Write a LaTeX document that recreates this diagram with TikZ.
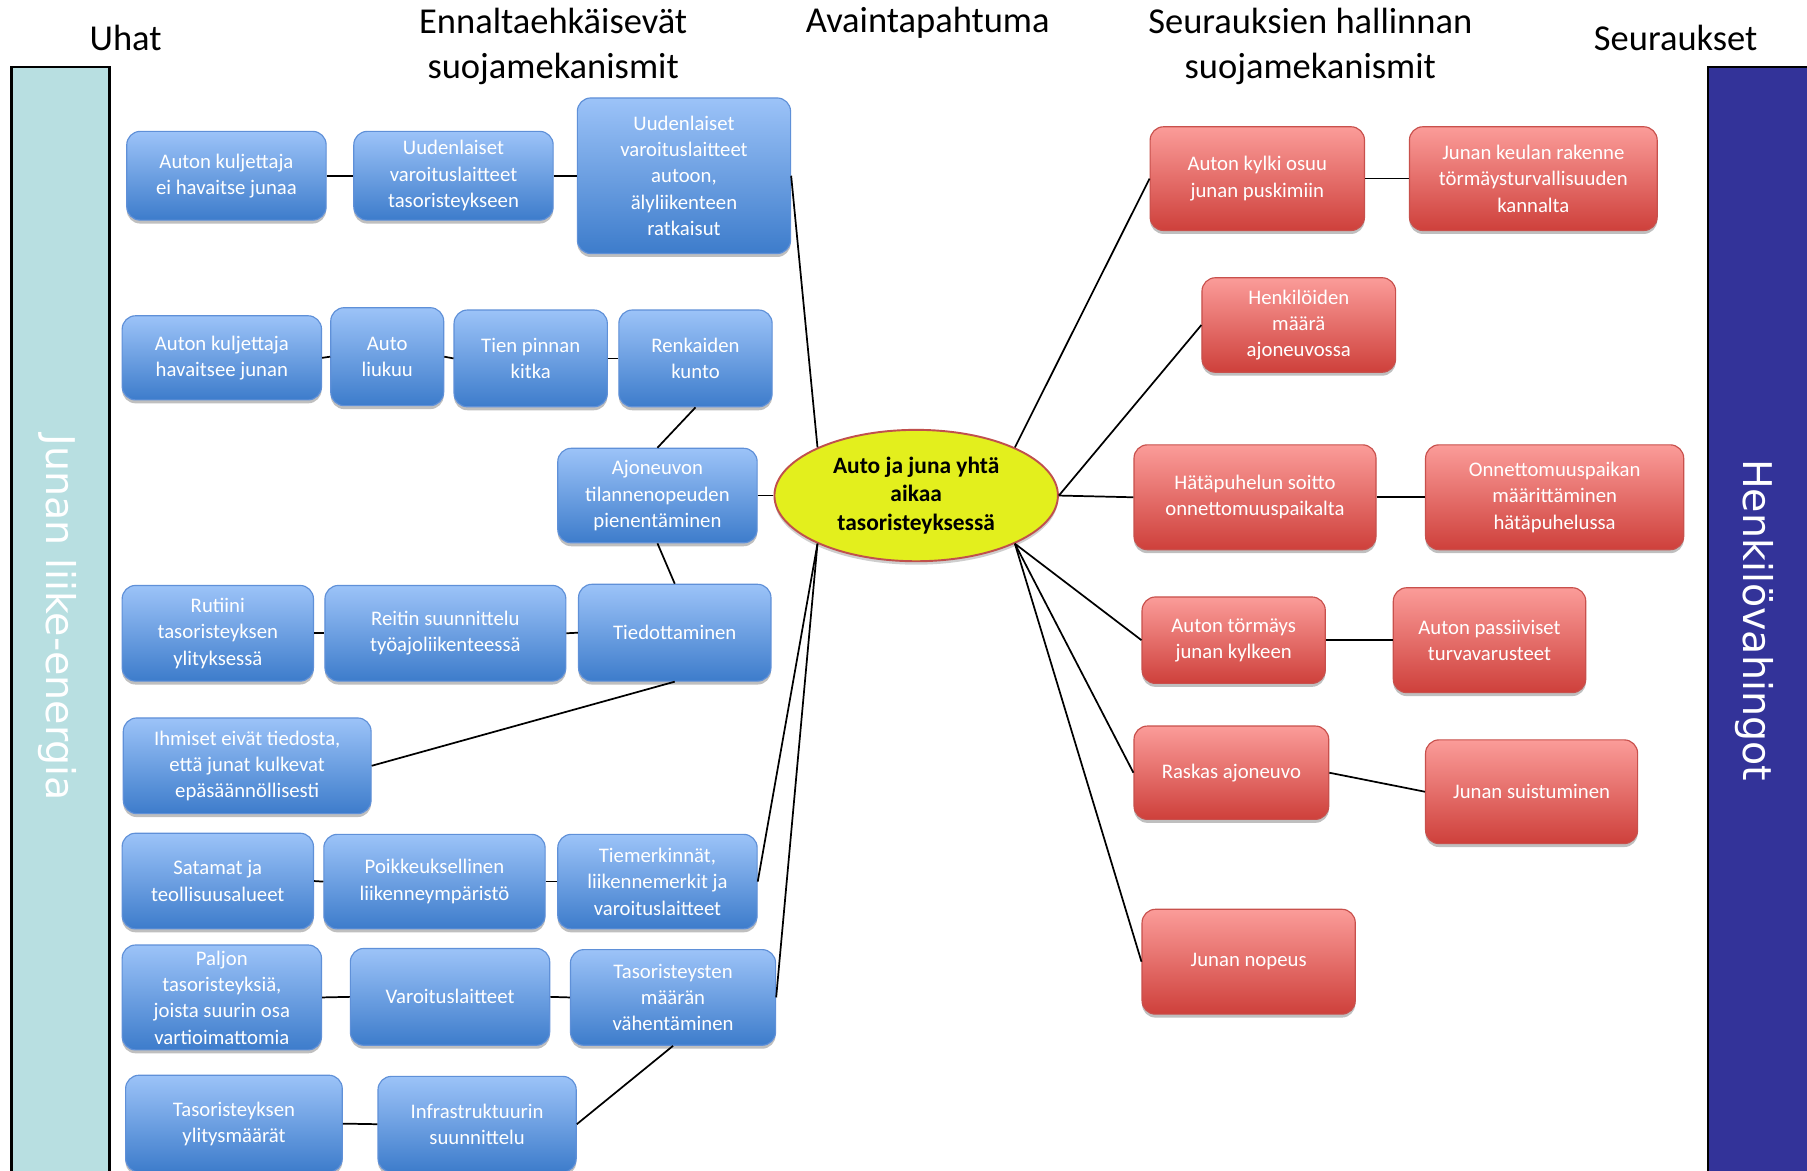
\documentclass[tikz,border=0pt]{standalone}
\usepackage{fontspec}
\setmainfont{Carlito}
\newfontfamily\dvs{DejaVu Sans}
\usetikzlibrary{shapes.geometric,shadows}
\definecolor{btop}{HTML}{9CC3F8}
\definecolor{bbot}{HTML}{3D7CCB}
\definecolor{bedge}{HTML}{5F90D8}
\definecolor{rtop}{HTML}{FB9C99}
\definecolor{rbot}{HTML}{CE403B}
\definecolor{redge}{HTML}{C8504C}
\definecolor{evfill}{HTML}{E3EF1D}
\definecolor{evedge}{HTML}{C0504D}
\definecolor{lbar}{HTML}{B8DFE1}
\definecolor{rbar}{HTML}{333399}
\tikzset{
  basebox/.style={rounded corners=7pt, align=center, text=white, inner sep=1pt,
    font=\fontsize{10.8}{13.7}\selectfont,
    drop shadow={shadow xshift=0pt, shadow yshift=-1.8pt, opacity=0.45, fill=black!55}},
  bluebox/.style={basebox, top color=btop, bottom color=bbot, draw=bedge, line width=0.6pt},
  redbox/.style={basebox, top color=rtop, bottom color=rbot, draw=redge, line width=0.6pt},
  header/.style={align=center, font=\fontsize{19}{23.4}\selectfont, inner sep=0pt},
  link/.style={draw=black, line width=0.9pt},
  sidebar/.style={draw=black, line width=1.2pt},
  sidetext/.style={rotate=-90, font=\dvs\fontsize{20.6}{24}\selectfont, inner sep=0pt}
}
\newcommand\mkbox[7]{%
  \node[#1, minimum width={(#5-#3)*0.6pt}, minimum height={(#6-#4)*0.6pt}]
    (#2) at ({(#3+#5)/2},{(#4+#6)/2+1}) {#7};}
\begin{document}
\begin{tikzpicture}[x=0.6pt,y=-0.6pt]
\useasboundingbox (0,0) rectangle (1568,1016);
\fill[white] (0,0) rectangle (1568,1016);

% side bars
\path[sidebar, fill=lbar] (10,58) rectangle (95,1020);
\path[sidebar, fill=rbar] (1482,58) rectangle (1572,1020);
\node[sidetext, text=white] (lt) at (50,536) {Junan liike-energia};
\node[sidetext, text=white] (rt) at (1522,538) {Henkilövahingot};

% headers
\node[header] (h1) at (109,33) {Uhat};
\node[header] (h2) at (480,40) {Ennaltaehkäisevät\\suojamekanismit};
\node[header] (h3) at (805,20) {Avaintapahtuma};
\node[header] (h4) at (1137,40) {Seurauksien hallinnan\\suojamekanismit};
\node[header] (h5) at (1454,33) {Seuraukset};

% central event
\node[ellipse, fill=evfill, draw=evedge, line width=1pt,
      minimum width={246*0.6pt}, minimum height={114*0.6pt}, inner sep=0pt,
      align=center, font=\bfseries\fontsize{12.2}{15}\selectfont,
      drop shadow={shadow xshift=0pt, shadow yshift=-1.8pt, opacity=0.35, fill=black!55}]
  (ev) at (795,430) {Auto ja juna yhtä\\aikaa\\tasoristeyksessä};

% blue boxes
\mkbox{bluebox}{b1}{110}{113}{283}{190}{Auton kuljettaja\\ei havaitse junaa}
\mkbox{bluebox}{b2}{307}{113}{480}{190}{Uudenlaiset\\varoituslaitteet\\tasoristeykseen}
\mkbox{bluebox}{b3}{501}{84}{686}{219}{Uudenlaiset\\varoituslaitteet\\autoon,\\älyliikenteen\\ratkaisut}
\mkbox{bluebox}{b4}{106}{273}{279}{346}{Auton kuljettaja\\havaitsee junan}
\mkbox{bluebox}{b5}{287}{266}{385}{351}{Auto\\liukuu}
\mkbox{bluebox}{b6}{394}{268}{527}{352}{Tien pinnan\\kitka}
\mkbox{bluebox}{b7}{537}{268}{670}{352}{Renkaiden\\kunto}
\mkbox{bluebox}{b8}{484}{388}{657}{470}{Ajoneuvon\\tilannenopeuden\\pienentäminen}
\mkbox{bluebox}{b9}{106}{507}{272}{590}{Rutiini\\tasoristeyksen\\ylityksessä}
\mkbox{bluebox}{b10}{282}{507}{491}{590}{Reitin suunnittelu\\työajoliikenteessä}
\mkbox{bluebox}{b11}{502}{506}{669}{590}{Tiedottaminen}
\mkbox{bluebox}{b12}{107}{622}{322}{705}{Ihmiset eivät tiedosta,\\että junat kulkevat\\epäsäännöllisesti}
\mkbox{bluebox}{b13}{106}{722}{272}{805}{Satamat ja\\teollisuusalueet}
\mkbox{bluebox}{b14}{281}{723}{473}{805}{Poikkeuksellinen\\liikenneympäristö}
\mkbox{bluebox}{b15}{484}{723}{657}{805}{Tiemerkinnät,\\liikennemerkit ja\\varoituslaitteet}
\mkbox{bluebox}{b16}{106}{819}{279}{910}{Paljon\\tasoristeyksiä,\\joista suurin osa\\vartioimattomia}
\mkbox{bluebox}{b17}{304}{822}{477}{906}{Varoituslaitteet}
\mkbox{bluebox}{b18}{495}{823}{673}{906}{Tasoristeysten\\määrän\\vähentäminen}
\mkbox{bluebox}{b19}{109}{932}{297}{1016}{Tasoristeyksen\\ylitysmäärät}
\mkbox{bluebox}{b20}{328}{933}{500}{1016}{Infrastruktuurin\\suunnittelu}

% red boxes
\mkbox{redbox}{r1}{998}{109}{1184}{199}{Auton kylki osuu\\junan puskimiin}
\mkbox{redbox}{r2}{1223}{109}{1438}{199}{Junan keulan rakenne\\törmäysturvallisuuden\\kannalta}
\mkbox{redbox}{r3}{1043}{240}{1211}{322}{Henkilöiden\\määrä\\ajoneuvossa}
\mkbox{redbox}{r4}{984}{385}{1194}{476}{Hätäpuhelun soitto\\onnettomuuspaikalta}
\mkbox{redbox}{r5}{1237}{385}{1461}{476}{Onnettomuuspaikan\\määrittäminen\\hätäpuhelussa}
\mkbox{redbox}{r6}{991}{517}{1150}{592}{Auton törmäys\\junan kylkeen}
\mkbox{redbox}{r7}{1209}{509}{1376}{600}{Auton passiiviset\\turvavarusteet}
\mkbox{redbox}{r8}{984}{629}{1153}{710}{Raskas ajoneuvo}
\mkbox{redbox}{r9}{1237}{641}{1421}{731}{Junan suistuminen}
\mkbox{redbox}{r10}{991}{788}{1176}{879}{Junan nopeus}

% left connectors
\draw[link] (b1.east) -- (b2.west);
\draw[link] (b2.east) -- (b3.west);
\draw[link] (b3.east) -- (ev.154);
\draw[link] (b4.east) -- (b5.west);
\draw[link] (b5.east) -- (b6.west);
\draw[link] (b6.east) -- (b7.west);
\draw[link] (b7.south) -- (b8.north);
\draw[link] (b8.east) -- (ev.west);
\draw[link] (b8.south) -- (b11.north);
\draw[link] (b9.east) -- (b10.west);
\draw[link] (b10.east) -- (b11.west);
\draw[link] (b11.south) -- (b12.east);
\draw[link] (b13.east) -- (b14.west);
\draw[link] (b14.east) -- (b15.west);
\draw[link] (b15.east) -- (ev.206);
\draw[link] (b16.east) -- (b17.west);
\draw[link] (b17.east) -- (b18.west);
\draw[link] (b18.east) -- (ev.206);
\draw[link] (b18.south) -- (b20.east);
\draw[link] (b19.east) -- (b20.west);

% right connectors
\draw[link] (ev.26) -- (r1.west);
\draw[link] (r1.east) -- (r2.west);
\draw[link] (ev.east) -- (r3.west);
\draw[link] (ev.east) -- (r4.west);
\draw[link] (r4.east) -- (r5.west);
\draw[link] (ev.334) -- (r6.west);
\draw[link] (r6.east) -- (r7.west);
\draw[link] (ev.334) -- (r8.west);
\draw[link] (r8.east) -- (r9.west);
\draw[link] (ev.334) -- (r10.west);
\end{tikzpicture}
\end{document}
